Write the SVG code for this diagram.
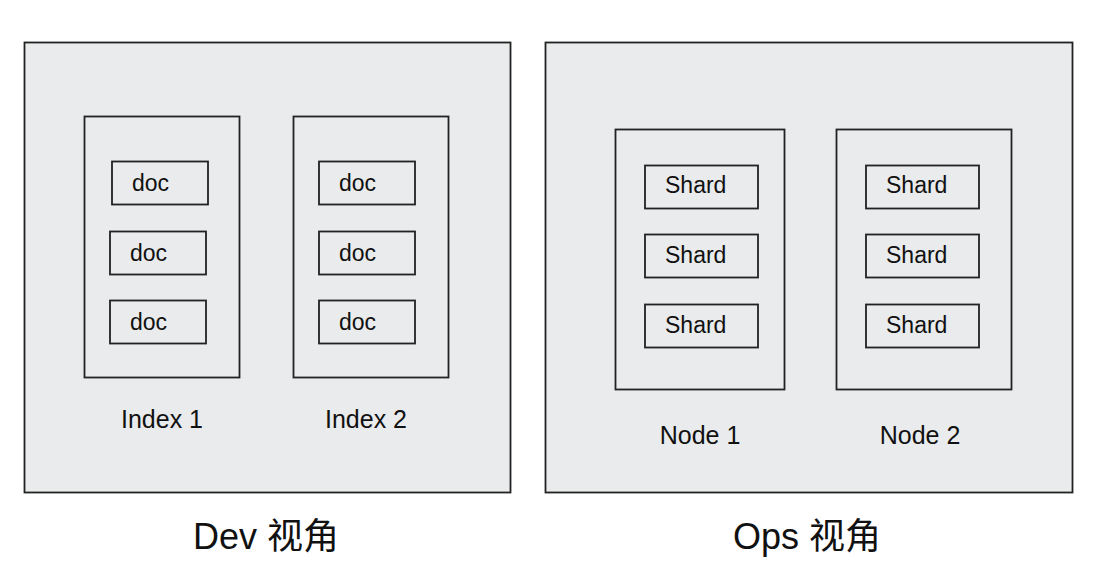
<svg xmlns="http://www.w3.org/2000/svg" width="1102" height="582" viewBox="0 0 1102 582">
<style>
rect{fill:#e9ebec;stroke:#222;stroke-width:1.8}
text{font-family:"Liberation Sans","Noto Sans CJK SC",sans-serif;fill:#111}
.in{font-size:23px}
.lb{font-size:25px;text-anchor:middle}
.tt{font-size:36px;text-anchor:middle}
</style>
<rect width="1102" height="582" style="fill:#fff;stroke:none"/>
<g id="dev">
<rect x="24.5" y="42.5" width="486" height="450"/>
<text class="tt" x="266" y="549">Dev 视角</text>
</g>
<g id="ops">
<rect x="545.5" y="42.5" width="527" height="450"/>
<text class="tt" x="807" y="549">Ops 视角</text>
</g>
<g id="index1">
<rect x="84.5" y="116.5" width="155" height="261"/>
<text class="lb" x="162" y="428">Index 1</text>
</g>
<g id="index1-doc1"><rect x="112" y="161.5" width="96" height="43"/><text class="in" x="132" y="191">doc</text></g>
<g id="index1-doc2"><rect x="110" y="231.5" width="96" height="43"/><text class="in" x="130" y="261">doc</text></g>
<g id="index1-doc3"><rect x="110" y="300.5" width="96" height="43"/><text class="in" x="130" y="330">doc</text></g>
<g id="index2">
<rect x="293.5" y="116.5" width="155" height="261"/>
<text class="lb" x="366" y="428">Index 2</text>
</g>
<g id="index2-doc1"><rect x="319" y="161.5" width="96" height="43"/><text class="in" x="339" y="191">doc</text></g>
<g id="index2-doc2"><rect x="319" y="231.5" width="96" height="43"/><text class="in" x="339" y="261">doc</text></g>
<g id="index2-doc3"><rect x="319" y="300.5" width="96" height="43"/><text class="in" x="339" y="330">doc</text></g>
<g id="node1">
<rect x="615.5" y="129.5" width="169" height="260"/>
<text class="lb" x="700" y="444">Node 1</text>
</g>
<g id="node1-shard1"><rect x="645" y="165.5" width="113" height="43"/><text class="in" x="665" y="193">Shard</text></g>
<g id="node1-shard2"><rect x="645" y="234.5" width="113" height="43"/><text class="in" x="665" y="263">Shard</text></g>
<g id="node1-shard3"><rect x="645" y="304.5" width="113" height="43"/><text class="in" x="665" y="333">Shard</text></g>
<g id="node2">
<rect x="836.5" y="129.5" width="175" height="260"/>
<text class="lb" x="920" y="444">Node 2</text>
</g>
<g id="node2-shard1"><rect x="866" y="165.5" width="113" height="43"/><text class="in" x="886" y="193">Shard</text></g>
<g id="node2-shard2"><rect x="866" y="234.5" width="113" height="43"/><text class="in" x="886" y="263">Shard</text></g>
<g id="node2-shard3"><rect x="866" y="304.5" width="113" height="43"/><text class="in" x="886" y="333">Shard</text></g>
<g id="connectors"></g>
</svg>
